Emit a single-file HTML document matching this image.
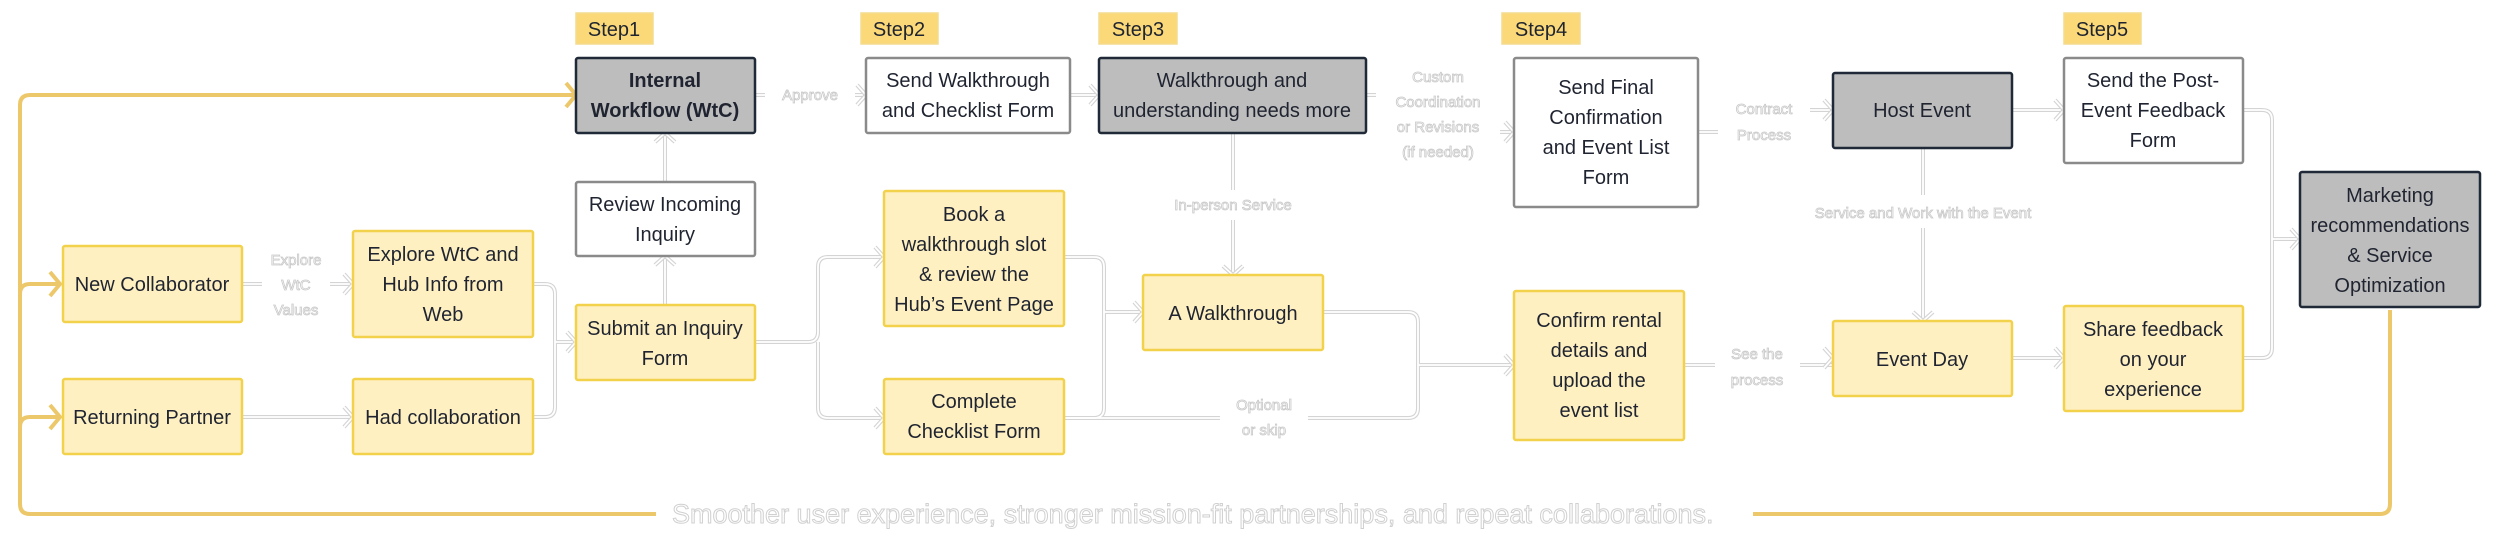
<!DOCTYPE html>
<html><head><meta charset="utf-8"><style>
html,body{margin:0;padding:0;background:#fff;}
svg{display:block;}
.t{font-family:"Liberation Sans",sans-serif;font-size:20px;fill:#1f2430;text-anchor:middle;}
.b{font-weight:bold;}
.lb{font-family:"Liberation Sans",sans-serif;font-size:15px;fill:#fff;stroke:#c8c8c8;stroke-width:0.8;text-anchor:middle;}
.big{font-family:"Liberation Sans",sans-serif;font-size:27px;fill:#fff;stroke:#d0d0d0;stroke-width:1;}
.y{fill:#fff0c2;stroke:#f2d14b;stroke-width:2.5;}
.g{fill:#bdbdbd;stroke:#1f2937;stroke-width:2.5;}
.w{fill:#fff;stroke:#8a8a8a;stroke-width:2.5;}
.s{fill:#fbd878;stroke:#f3dc8f;stroke-width:1.5;}
.c1{fill:none;stroke:#d4d4d4;stroke-width:4;stroke-linejoin:round;}
.c2{fill:none;stroke:#fff;stroke-width:1.8;stroke-linejoin:round;}
.gold{fill:none;stroke:#ecc86a;stroke-width:4;stroke-linejoin:round;}
</style></head><body>
<svg width="2500" height="545" viewBox="0 0 2500 545" xmlns="http://www.w3.org/2000/svg">
<defs>
<g id="conn">
<path d="M242 284H262M330 284H353"/>
<path d="M242 417H353"/>
<path d="M533 284H545Q555 284 555 294V407Q555 417 545 417H533M555 342H576"/>
<path d="M665 305V256M665 182V133"/>
<path d="M755 95H765M855 95H866"/>
<path d="M1070 95H1099"/>
<path d="M755 342H808Q818 342 818 332V267Q818 257 828 257H884M818 342V408Q818 418 828 418H884"/>
<path d="M1064 257H1094Q1104 257 1104 267V408Q1104 418 1094 418H1064M1104 312H1143"/>
<path d="M1233 133V190M1233 220V275"/>
<path d="M1366 95H1376M1500 132H1514"/>
<path d="M1323 312H1408Q1418 312 1418 322V408Q1418 418 1408 418H1308M1220 418H1064M1418 365H1514"/>
<path d="M1698 132H1718M1810 110H1833"/>
<path d="M1684 365H1715M1800 365H1833"/>
<path d="M1923 148V195M1923 228V321"/>
<path d="M2012 110H2064M2012 358H2064"/>
<path d="M2243 110H2262Q2272 110 2272 120V348Q2272 358 2262 358H2243M2272 239H2300"/>
</g>
<g id="arr">
<path d="M344 274L353 284L344 294"/>
<path d="M344 407L353 417L344 427"/>
<path d="M567 332L576 342L567 352"/>
<path d="M655 265L665 256L675 265M655 142L665 133L675 142"/>
<path d="M857 85L866 95L857 105"/>
<path d="M1090 85L1099 95L1090 105"/>
<path d="M875 247L884 257L875 267M875 408L884 418L875 428"/>
<path d="M1134 302L1143 312L1134 322"/>
<path d="M1223 266L1233 275L1243 266"/>
<path d="M1505 122L1514 132L1505 142"/>
<path d="M1505 355L1514 365L1505 375"/>
<path d="M1824 100L1833 110L1824 120"/>
<path d="M1824 348L1833 358L1824 368"/>
<path d="M1913 312L1923 321L1933 312"/>
<path d="M2055 100L2064 110L2055 120M2055 348L2064 358L2055 368"/>
<path d="M2291 229L2300 239L2291 249"/>
</g>
</defs>
<use href="#conn" class="c1"/><use href="#conn" class="c2"/>
<use href="#arr" class="c1"/><use href="#arr" class="c2"/>

<!-- gold loop -->
<path class="gold" d="M656 514H30Q20 514 20 504V105Q20 95 30 95H574"/>
<path class="gold" d="M20 294Q20 284 30 284H60M20 427Q20 417 30 417H60"/>
<path class="gold" d="M566 83L576 95L566 107M50 272L60 284L50 296M50 405L60 417L50 429"/>
<path class="gold" d="M2390 310V504Q2390 514 2380 514H1753"/>
<text class="big" x="672" y="523">Smoother user experience, stronger mission-fit partnerships, and repeat collaborations.</text>

<!-- steps -->
<rect class="s" x="576" y="13" width="77" height="31"/><text class="t" x="614" y="36">Step1</text>
<rect class="s" x="861" y="13" width="77" height="31"/><text class="t" x="899" y="36">Step2</text>
<rect class="s" x="1099" y="13" width="78" height="31"/><text class="t" x="1138" y="36">Step3</text>
<rect class="s" x="1502" y="13" width="78" height="31"/><text class="t" x="1541" y="36">Step4</text>
<rect class="s" x="2064" y="13" width="77" height="31"/><text class="t" x="2102" y="36">Step5</text>

<!-- boxes -->
<rect class="g" x="576" y="58" width="179" height="75" rx="2"/>
<text class="t b" x="665" y="87">Internal</text><text class="t b" x="665" y="117">Workflow (WtC)</text>
<rect class="w" x="576" y="182" width="179" height="74" rx="2"/>
<text class="t" x="665" y="211">Review Incoming</text><text class="t" x="665" y="241">Inquiry</text>
<rect class="y" x="576" y="305" width="179" height="75" rx="2"/>
<text class="t" x="665" y="335">Submit an Inquiry</text><text class="t" x="665" y="365">Form</text>
<rect class="y" x="63" y="246" width="179" height="76" rx="2"/>
<text class="t" x="152" y="291">New Collaborator</text>
<rect class="y" x="63" y="379" width="179" height="75" rx="2"/>
<text class="t" x="152" y="424">Returning Partner</text>
<rect class="y" x="353" y="231" width="180" height="106" rx="2"/>
<text class="t" x="443" y="261">Explore WtC and</text><text class="t" x="443" y="291">Hub Info from</text><text class="t" x="443" y="321">Web</text>
<rect class="y" x="353" y="379" width="180" height="75" rx="2"/>
<text class="t" x="443" y="424">Had collaboration</text>

<rect class="w" x="866" y="58" width="204" height="75" rx="2"/>
<text class="t" x="968" y="87">Send Walkthrough</text><text class="t" x="968" y="117">and Checklist Form</text>
<rect class="g" x="1099" y="58" width="267" height="75" rx="2"/>
<text class="t" x="1232" y="87">Walkthrough and</text><text class="t" x="1232" y="117">understanding needs more</text>
<rect class="w" x="1514" y="58" width="184" height="149" rx="2"/>
<text class="t" x="1606" y="94">Send Final</text><text class="t" x="1606" y="124">Confirmation</text><text class="t" x="1606" y="154">and Event List</text><text class="t" x="1606" y="184">Form</text>
<rect class="y" x="884" y="191" width="180" height="135" rx="2"/>
<text class="t" x="974" y="221">Book a</text><text class="t" x="974" y="251">walkthrough slot</text><text class="t" x="974" y="281">&amp; review the</text><text class="t" x="974" y="311">Hub’s Event Page</text>
<rect class="y" x="884" y="379" width="180" height="75" rx="2"/>
<text class="t" x="974" y="408">Complete</text><text class="t" x="974" y="438">Checklist Form</text>
<rect class="y" x="1143" y="275" width="180" height="75" rx="2"/>
<text class="t" x="1233" y="320">A Walkthrough</text>
<rect class="y" x="1514" y="291" width="170" height="149" rx="2"/>
<text class="t" x="1599" y="327">Confirm rental</text><text class="t" x="1599" y="357">details and</text><text class="t" x="1599" y="387">upload the</text><text class="t" x="1599" y="417">event list</text>

<rect class="g" x="1833" y="73" width="179" height="75" rx="2"/>
<text class="t" x="1922" y="117">Host Event</text>
<rect class="w" x="2064" y="58" width="179" height="105" rx="2"/>
<text class="t" x="2153" y="87">Send the Post-</text><text class="t" x="2153" y="117">Event Feedback</text><text class="t" x="2153" y="147">Form</text>
<rect class="g" x="2300" y="172" width="180" height="135" rx="2"/>
<text class="t" x="2390" y="202">Marketing</text><text class="t" x="2390" y="232">recommendations</text><text class="t" x="2390" y="262">&amp; Service</text><text class="t" x="2390" y="292">Optimization</text>
<rect class="y" x="1833" y="321" width="179" height="75" rx="2"/>
<text class="t" x="1922" y="366">Event Day</text>
<rect class="y" x="2064" y="306" width="179" height="105" rx="2"/>
<text class="t" x="2153" y="336">Share feedback</text><text class="t" x="2153" y="366">on your</text><text class="t" x="2153" y="396">experience</text>

<!-- labels -->
<text class="lb" x="296" y="265">Explore</text><text class="lb" x="296" y="290">WtC</text><text class="lb" x="296" y="315">Values</text>
<text class="lb" x="810" y="100">Approve</text>
<text class="lb" x="1233" y="210">In-person Service</text>
<text class="lb" x="1438" y="82">Custom</text><text class="lb" x="1438" y="107">Coordination</text><text class="lb" x="1438" y="132">or Revisions</text><text class="lb" x="1438" y="157">(if needed)</text>
<text class="lb" x="1264" y="410">Optional</text><text class="lb" x="1264" y="435">or skip</text>
<text class="lb" x="1764" y="114">Contract</text><text class="lb" x="1764" y="140">Process</text>
<text class="lb" x="1923" y="218">Service and Work with the Event</text>
<text class="lb" x="1757" y="359">See the</text><text class="lb" x="1757" y="385">process</text>
</svg>
</body></html>
